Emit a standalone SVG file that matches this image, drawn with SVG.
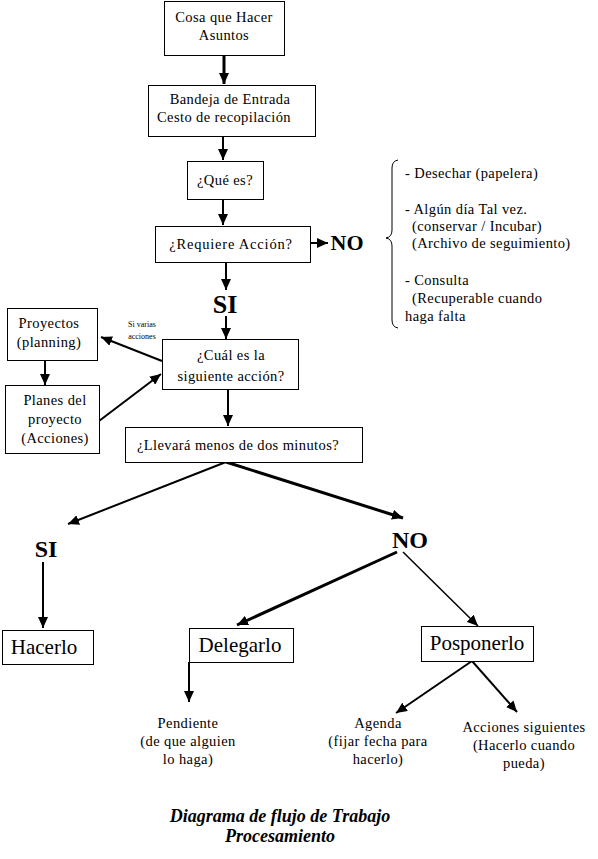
<svg xmlns="http://www.w3.org/2000/svg" width="598" height="859" viewBox="0 0 598 859" font-family="'Liberation Serif', 'Times New Roman', 'DejaVu Serif', serif">
<style>
text{font-family:'Liberation Serif','Times New Roman','DejaVu Serif',serif;fill:#000}
.t{font-size:14.5px;text-anchor:middle;letter-spacing:0.4px}
.l{font-size:14.5px;letter-spacing:0.4px}
.big{font-size:21px;text-anchor:middle}
.yn{font-size:24px;font-weight:bold;text-anchor:middle}
.box{fill:#fff;stroke:#000;stroke-width:1}
.c{stroke:#000;stroke-width:2;fill:none}
.c3{stroke:#000;stroke-width:3;fill:none}
.c1{stroke:#000;stroke-width:1.5;fill:none}
.title{font-size:18px;font-weight:bold;font-style:italic;text-anchor:middle}
</style>
<defs>
<marker id="ah" markerUnits="userSpaceOnUse" markerWidth="12" markerHeight="10" refX="11" refY="5" orient="auto">
<path d="M0,0 L11,5 L0,10 Z" fill="#000"/>
</marker>
</defs>
<rect width="598" height="859" fill="#fff"/>
<g id="connectors">
<line class="c3" x1="224" y1="55" x2="224" y2="84" marker-end="url(#ah)"/>
<line class="c" x1="223" y1="136" x2="223" y2="160" marker-end="url(#ah)"/>
<line class="c" x1="223" y1="199" x2="223" y2="225" marker-end="url(#ah)"/>
<line class="c" x1="310" y1="243" x2="328" y2="243" marker-end="url(#ah)"/>
<line class="c" x1="226" y1="262" x2="226" y2="290" marker-end="url(#ah)"/>
<line class="c" x1="226" y1="316" x2="226" y2="339" marker-end="url(#ah)"/>
<line class="c" x1="162" y1="361" x2="101" y2="337" marker-end="url(#ah)"/>
<line class="c" x1="45" y1="361" x2="45" y2="385" marker-end="url(#ah)"/>
<line class="c" x1="99" y1="421" x2="161" y2="374" marker-end="url(#ah)"/>
<line class="c" x1="228" y1="389" x2="228" y2="426" marker-end="url(#ah)"/>
<line class="c" x1="226" y1="462" x2="68" y2="524" marker-end="url(#ah)"/>
<line class="c3" x1="226" y1="462" x2="403" y2="518" marker-end="url(#ah)"/>
<line class="c" x1="43" y1="562" x2="43" y2="628" marker-end="url(#ah)"/>
<line class="c3" x1="397" y1="552" x2="237" y2="625" marker-end="url(#ah)"/>
<line class="c1" x1="403" y1="552" x2="478" y2="626" marker-end="url(#ah)"/>
<line class="c" x1="189" y1="662" x2="189" y2="702" marker-end="url(#ah)"/>
<line class="c" x1="472" y1="661" x2="396" y2="713" marker-end="url(#ah)"/>
<line class="c" x1="472" y1="661" x2="517" y2="712" marker-end="url(#ah)"/>
</g>
<g id="n-cosa"><rect class="box" x="164.5" y="1.5" width="120" height="54"/>
<text class="t" x="224" y="22">Cosa que Hacer</text><text class="t" x="224" y="40">Asuntos</text></g>
<g id="n-bandeja"><rect class="box" x="148.5" y="85.5" width="167" height="51"/>
<text class="t" x="230" y="104">Bandeja de Entrada</text><text class="l" x="157" y="122">Cesto de recopilación</text></g>
<g id="n-quees"><rect class="box" x="187.5" y="161.5" width="76" height="38"/>
<text class="t" x="225" y="185">¿Qué es?</text></g>
<g id="n-requiere"><rect class="box" x="155.5" y="226.5" width="155" height="36"/>
<text class="t" x="231" y="249" style="letter-spacing:0.8px">¿Requiere Acción?</text></g>
<g id="n-no1"><text class="yn" x="347" y="250" style="font-size:22px">NO</text></g>
<g id="n-opciones">
<path d="M398 160 Q392 161 392 168 L392 230 Q392 237 386 238 Q392 239 392 246 L392 320 Q392 327 398 328" fill="none" stroke="#000" stroke-width="1"/>
<text class="l" x="405" y="178">- Desechar (papelera)</text>
<text class="l" x="405" y="214">- Algún día Tal vez.</text>
<text class="l" x="412" y="231">(conservar / Incubar)</text>
<text class="l" x="412" y="248">(Archivo de seguimiento)</text>
<text class="l" x="405" y="285">- Consulta</text>
<text class="l" x="412" y="303">(Recuperable cuando</text>
<text class="l" x="405" y="321">haga falta</text>
</g>
<g id="n-si1"><text class="yn" x="225" y="313" style="font-size:26px">SI</text></g>
<g id="n-proyectos"><rect class="box" x="7.5" y="308.5" width="90" height="52"/>
<text class="t" x="49" y="328">Proyectos</text><text class="t" x="49" y="347">(planning)</text></g>
<g id="n-varias"><text x="142" y="327" style="font-size:8px;text-anchor:middle">Si varias</text><text x="142" y="339" style="font-size:8px;text-anchor:middle">acciones</text></g>
<g id="n-planes"><rect class="box" x="5.5" y="385.5" width="94" height="68"/>
<text class="t" x="55" y="405">Planes del</text><text class="t" x="55" y="424">proyecto</text><text class="t" x="55" y="443">(Acciones)</text></g>
<g id="n-cual"><rect class="box" x="162.5" y="339.5" width="136" height="50"/>
<text class="t" x="231" y="360">¿Cuál es la</text><text class="t" x="231" y="381">siguiente acción?</text></g>
<g id="n-llevara"><rect class="box" x="125.5" y="427.5" width="237" height="35"/>
<text class="t" x="238" y="450">¿Llevará menos de dos minutos?</text></g>
<g id="n-si2"><text class="yn" x="46" y="557">SI</text></g>
<g id="n-no2"><text class="yn" x="410" y="548">NO</text></g>
<g id="n-hacerlo"><rect class="box" x="2.5" y="630.5" width="91" height="34"/>
<text class="big" x="44" y="654">Hacerlo</text></g>
<g id="n-delegarlo"><rect class="box" x="189.5" y="628.5" width="104" height="34"/>
<text class="big" x="240" y="652">Delegarlo</text></g>
<g id="n-posponerlo"><rect class="box" x="421.5" y="626.5" width="112" height="35"/>
<text class="big" x="477" y="650">Posponerlo</text></g>
<g id="n-pendiente"><text class="t" x="188" y="728">Pendiente</text><text class="t" x="188" y="746">(de que alguien</text><text class="t" x="188" y="764">lo haga)</text></g>
<g id="n-agenda"><text class="t" x="378" y="728">Agenda</text><text class="t" x="378" y="746">(fijar fecha para</text><text class="t" x="378" y="764">hacerlo)</text></g>
<g id="n-acciones"><text class="t" x="524" y="732">Acciones siguientes</text><text class="t" x="524" y="750">(Hacerlo cuando</text><text class="t" x="524" y="768">pueda)</text></g>
<g id="n-titulo"><text class="title" x="280" y="822">Diagrama de flujo de Trabajo</text><text class="title" x="280" y="842">Procesamiento</text></g>
</svg>
